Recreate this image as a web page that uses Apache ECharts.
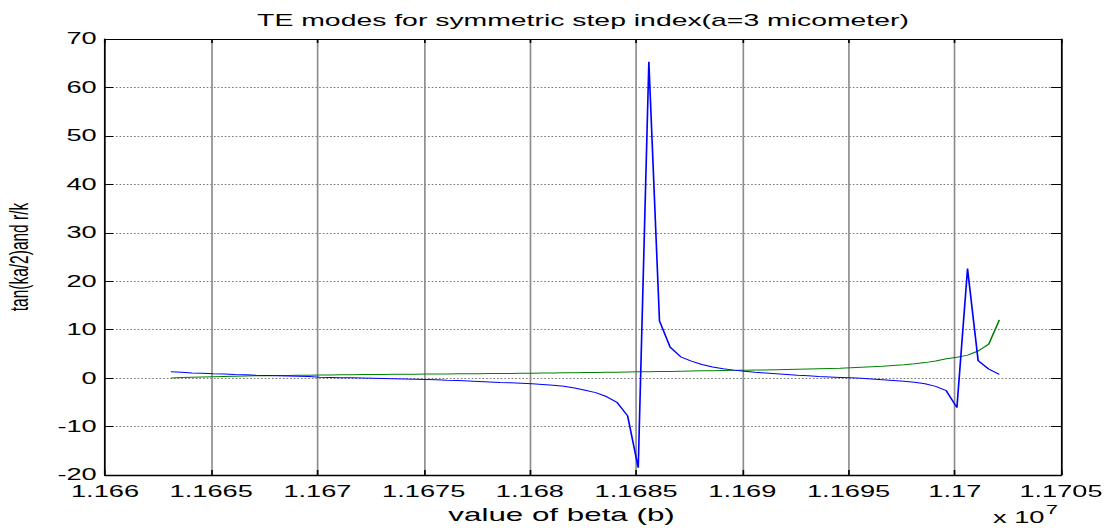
<!DOCTYPE html>
<html><head><meta charset="utf-8">
<script src="https://cdn.jsdelivr.net/npm/echarts@6/dist/echarts.min.js"></script>
<style>
html,body{margin:0;padding:0;background:#fff;overflow:hidden;}
#wrap{width:1112px;height:528px;overflow:hidden;position:relative;background:#fff;}
#c{position:absolute;left:0;top:0;height:528px;transform-origin:0 0;}
</style></head><body><div id="wrap"><div id="c"></div></div>
<script>
// ---- data ----
const betaValues = [
 11663100,11663600,11664100,11664600,11665100,11665600,11666100,11666600,11667100,11667600,
 11668100,11668600,11669100,11669600,11670100,11670600,11671100,11671600,11672100,11672600,
 11673100,11673600,11674100,11674600,11675100,11675600,11676100,11676600,11677100,11677600,
 11678100,11678600,11679100,11679600,11680100,11680600,11681100,11681600,11682100,11682600,
 11683100,11683600,11684100,11684600,11685100,11685600,11686100,11686600,11687100,11687600,
 11688100,11688600,11689100,11689600,11690100,11690600,11691100,11691600,11692100,11692600,
 11693100,11693600,11694100,11694600,11695100,11695600,11696100,11696600,11697100,11697600,
 11698100,11698600,11699100,11699600,11700100,11700600,11701100,11701600,11702100
];
const tanValues = [
 1.3,1.2,1.05,1.0,0.9,0.85,0.75,0.7,0.6,0.55,
 0.5,0.45,0.4,0.35,0.2,0.15,0.1,0.05,0.0,-0.05,
 -0.1,-0.15,-0.2,-0.25,-0.3,-0.35,-0.45,-0.5,-0.6,-0.7,
 -0.8,-0.9,-0.95,-1.05,-1.15,-1.3,-1.45,-1.7,-2.05,-2.5,
 -3.0,-3.8,-5.0,-7.8,-18.5,65.3,11.8,6.4,4.4,3.5,
 2.8,2.3,1.95,1.65,1.4,1.2,1.05,0.9,0.75,0.6,
 0.5,0.35,0.25,0.15,0.05,-0.05,-0.2,-0.35,-0.5,-0.65,
 -0.85,-1.15,-1.7,-2.6,-6.1,22.6,3.6,1.85,0.75
];
const rkValues = [
 0.0,0.15,0.2,0.25,0.3,0.35,0.4,0.45,0.5,0.5,
 0.55,0.55,0.6,0.6,0.65,0.65,0.7,0.7,0.75,0.75,
 0.75,0.8,0.8,0.8,0.85,0.85,0.85,0.9,0.9,0.9,
 0.95,0.95,0.95,1.0,1.0,1.05,1.05,1.1,1.1,1.15,
 1.15,1.2,1.2,1.25,1.3,1.3,1.35,1.35,1.4,1.45,
 1.5,1.5,1.55,1.6,1.6,1.65,1.7,1.75,1.8,1.85,
 1.9,1.95,2.0,2.05,2.15,2.25,2.35,2.45,2.6,2.75,
 2.95,3.2,3.55,4.0,4.3,4.75,5.6,7.0,12.0
];
const xTickLabels = ['1.166','1.1665','1.167','1.1675','1.168','1.1685','1.169','1.1695','1.17','1.1705'];
const yTickLabels = ['-20','-10','0','10','20','30','40','50','60','70'];
const X_MIN = 11660000, X_MAX = 11705000, X_STEP = 5000;
const Y_MIN = -20, Y_MAX = 70, Y_STEP = 10;

// ---- layout (figure is horizontally stretched like the reference) ----
const SX = 1.65;
const W = 1112 / SX;
const el = document.getElementById('c');
el.style.width = W + 'px';
el.style.transform = 'scaleX(' + SX + ')';

const FONT = 'Liberation Sans, Arial, Helvetica, sans-serif';
const blueData = betaValues.map((b, i) => [b, tanValues[i]]);
const greenData = betaValues.map((b, i) => [b, rkValues[i]]);

const chart = echarts.init(el, null, {renderer: 'svg', width: W, height: 528});

const xLab = v => xTickLabels[Math.round((v - X_MIN) / X_STEP)] || '';
const yLab = v => yTickLabels[Math.round((v - Y_MIN) / Y_STEP)] || '';

const baseX = {type: 'value', min: X_MIN, max: X_MAX, interval: X_STEP};
const baseY = {type: 'value', min: Y_MIN, max: Y_MAX, interval: Y_STEP};

chart.setOption({
  animation: false,
  backgroundColor: '#fff',
  grid: {left: 105 / SX, right: (1112 - 1061) / SX, top: 39, bottom: 53,
         containLabel: false, outerBoundsMode: 'none'},
  xAxis: [
    Object.assign({}, baseX, {
      position: 'bottom',
      name: 'value of beta (b)', nameLocation: 'middle', nameGap: 28,
      nameTextStyle: {fontFamily: FONT, fontSize: 19, color: '#000', padding: [0, 26, 0, 0]},
      axisLine: {show: true, onZero: false, lineStyle: {color: '#000', width: 1.3}},
      axisTick: {show: true, inside: true, length: 5, lineStyle: {color: '#000', width: 1}},
      axisLabel: {show: true, margin: 8, fontFamily: FONT, fontSize: 16.5, color: '#000', formatter: xLab, showMinLabel: true, showMaxLabel: true},
      splitLine: {show: true, lineStyle: {color: '#8c8c8c', width: 1, type: 'solid'}}
    }),
    Object.assign({}, baseX, {
      position: 'top',
      axisLine: {show: true, onZero: false, lineStyle: {color: '#000', width: 1}},
      axisTick: {show: true, inside: true, length: 4, lineStyle: {color: '#000', width: 1}},
      axisLabel: {show: false},
      splitLine: {show: false}
    })
  ],
  yAxis: [
    Object.assign({}, baseY, {
      position: 'left',
      name: 'tan(ka/2)and r/k', nameLocation: 'middle', nameGap: 44, nameRotate: 90,
      nameTextStyle: {fontFamily: FONT, fontSize: 15.5, color: '#000'},
      axisLine: {show: true, onZero: false, lineStyle: {color: '#000', width: 1}},
      axisTick: {show: true, inside: true, length: 5, lineStyle: {color: '#000', width: 1}},
      axisLabel: {show: true, margin: 5, fontFamily: FONT, fontSize: 16.5, color: '#000', formatter: yLab},
      splitLine: {show: true, lineStyle: {color: '#7a7a7a', width: 1, type: [1, 1.2]}}
    }),
    Object.assign({}, baseY, {
      position: 'right',
      axisLine: {show: true, onZero: false, lineStyle: {color: '#000', width: 1}},
      axisTick: {show: true, inside: true, length: 6, lineStyle: {color: '#000', width: 1}},
      axisLabel: {show: false},
      splitLine: {show: false}
    })
  ],
  graphic: [
    {type: 'text', x: 583 / SX, y: 20, silent: true,
     style: {text: 'TE modes for symmetric step index(a=3 micometer)', font: '17.2px ' + FONT, fill: '#000',
             align: 'center', verticalAlign: 'middle', textAlign: 'center', textVerticalAlign: 'middle'}},
    {type: 'text', x: 993 / SX, y: 518, silent: true,
     style: {text: 'x 10', font: '16.5px ' + FONT, fill: '#000',
             align: 'left', verticalAlign: 'middle', textAlign: 'left', textVerticalAlign: 'middle'}},
    {type: 'text', x: 1046 / SX, y: 510, silent: true,
     style: {text: '7', font: '13px ' + FONT, fill: '#000',
             align: 'left', verticalAlign: 'middle', textAlign: 'left', textVerticalAlign: 'middle'}}
  ],
  series: [
    {type: 'line', name: 'tan(ka/2)', data: blueData, showSymbol: false, symbol: 'none',
     lineStyle: {color: '#0000ff', width: 1}, itemStyle: {color: '#0000ff'}, z: 3},
    {type: 'line', name: 'r/k', data: greenData, showSymbol: false, symbol: 'none',
     lineStyle: {color: '#008000', width: 1}, itemStyle: {color: '#008000'}, z: 2}
  ]
});
</script></body></html>
